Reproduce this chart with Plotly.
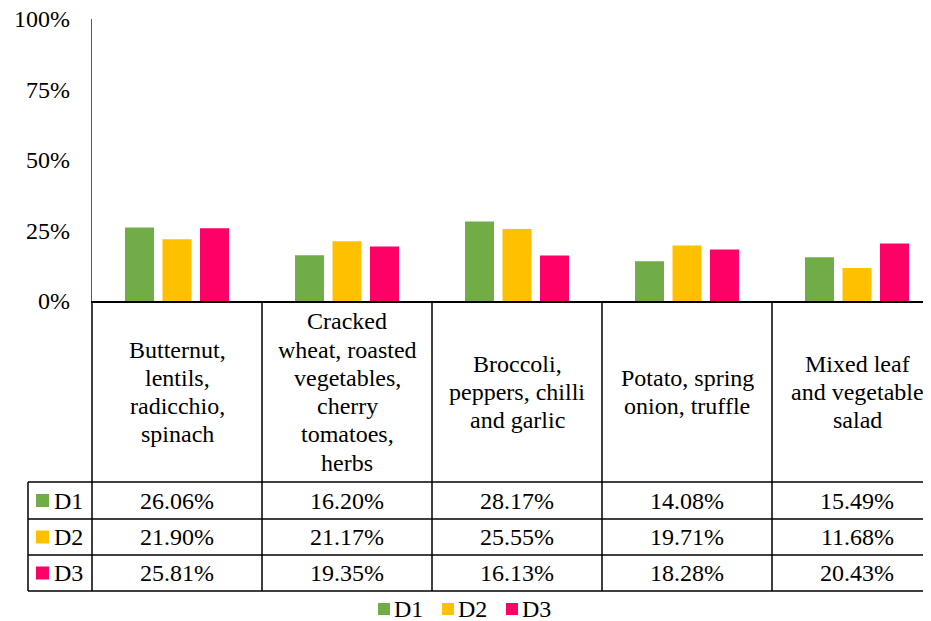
import plotly.graph_objects as go

# categories and series (values in %)
categories = [
    "Butternut,<br>lentils,<br>radicchio,<br>spinach",
    "Cracked<br>wheat, roasted<br>vegetables,<br>cherry<br>tomatoes,<br>herbs",
    "Broccoli,<br>peppers, chilli<br>and garlic",
    "Potato, spring<br>onion, truffle",
    "Mixed leaf<br>and vegetable<br>salad",
]
series_names = ["D1", "D2", "D3"]
d1 = [26.06, 16.20, 28.17, 14.08, 15.49]
d2 = [21.90, 21.17, 25.55, 19.71, 11.68]
d3 = [25.81, 19.35, 16.13, 18.28, 20.43]
colors = ["#70AD47", "#FFC000", "#FF0066"]

FONT = "Liberation Serif"
FS = 24
OFF = 8                    # page body margin
W, H = 931 - OFF, 621 - OFF
L, T, B = 92, 19, 301      # plot area in page pixels
PW, PH = 931 - L, B - T
COL = 170                  # pixel width of one category
LINE_H = 28.3              # line spacing in category cells

def px(x):
    return (x - L) / PW

def py(y):
    return (B - y) / PH

fig = go.Figure()
for name, vals, c in zip(series_names, [d1, d2, d3], colors):
    fig.add_trace(go.Bar(x=categories, y=vals, name=name, marker_color=c,
                         marker_line_width=0, showlegend=False))

shapes = []
line = dict(color="black", width=1.5)
# table grid
for i in range(5):
    x = L + COL * i
    shapes.append(dict(type="line", xref="paper", yref="paper",
                       x0=px(x), x1=px(x), y0=py(301), y1=py(591), line=line))
shapes.append(dict(type="line", xref="paper", yref="paper",
                   x0=px(28), x1=px(28), y0=py(482), y1=py(591), line=line))
for y in [482, 519, 555, 591]:
    shapes.append(dict(type="line", xref="paper", yref="paper",
                       x0=px(28), x1=px(940), y0=py(y), y1=py(y), line=line))

tfont = dict(family=FONT, size=FS, color="black")
annotations = []
# y tick labels
for v in [0, 25, 50, 75, 100]:
    annotations.append(dict(x=0, y=v, xref="paper", yref="y", text=f"{v}%",
                            showarrow=False, xanchor="right", xshift=-20,
                            yanchor="middle", font=tfont))
# category labels, one line at a time for tighter line spacing
for cat in categories:
    parts = cat.split("<br>")
    n = len(parts)
    for k, part in enumerate(parts):
        yc = 392 + (k - (n - 1) / 2) * LINE_H
        annotations.append(dict(x=cat, y=py(yc), xref="x", yref="paper",
                                text=part, showarrow=False, yanchor="middle",
                                font=tfont))
# value rows
row_mid = [500.5, 537, 573]
for r, (name, vals, c) in enumerate(zip(series_names, [d1, d2, d3], colors)):
    ym = row_mid[r]
    for cat, v in zip(categories, vals):
        annotations.append(dict(x=cat, y=py(ym), xref="x", yref="paper",
                                text=f"{v:.2f}%", showarrow=False, yanchor="middle",
                                font=tfont))
    shapes.append(dict(type="rect", xref="paper", yref="paper",
                       x0=px(36), x1=px(49), y0=py(ym - 6.5), y1=py(ym + 6.5),
                       fillcolor=c, line_width=0))
    annotations.append(dict(x=px(52), y=py(ym), xref="paper", yref="paper",
                            text=name, showarrow=False, xanchor="left", yanchor="middle",
                            font=tfont))

# bottom legend
leg_keys = [378, 442, 506]
for name, c, kx in zip(series_names, colors, leg_keys):
    shapes.append(dict(type="rect", xref="paper", yref="paper",
                       x0=px(kx), x1=px(kx + 12), y0=py(603), y1=py(615),
                       fillcolor=c, line_width=0))
    annotations.append(dict(x=px(kx + 14), y=py(609), xref="paper", yref="paper",
                            text=name, showarrow=False, xanchor="left", yanchor="middle",
                            font=tfont))

fig.update_layout(
    width=W, height=H,
    margin=dict(l=L - OFF, r=0, t=T - OFF, b=H - (B - OFF), pad=0),
    plot_bgcolor="white", paper_bgcolor="white",
    barmode="group", bargap=0.338, bargroupgap=0.227,
    font=tfont,
    shapes=shapes, annotations=annotations,
    showlegend=False,
)
fig.update_xaxes(range=[-0.5, -0.5 + PW / COL], showticklabels=False, ticks="",
                 showline=True, linecolor="black", linewidth=2, showgrid=False,
                 zeroline=False, fixedrange=True)
fig.update_yaxes(range=[0, 100], dtick=25, showticklabels=False, showgrid=False,
                 showline=True, linecolor="#595959", linewidth=1, ticks="",
                 zeroline=False)

fig.write_html("out.html")
